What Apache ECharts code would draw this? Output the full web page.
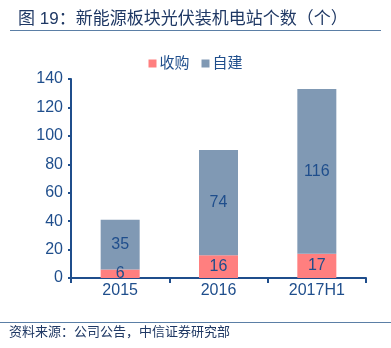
<!DOCTYPE html>
<html>
<head>
<meta charset="utf-8">
<script src="https://cdn.jsdelivr.net/npm/echarts@6/dist/echarts.min.js"></script>
<style>
html,body{margin:0;padding:0;background:#fff;}
#chart{width:391px;height:348px;}
</style>
</head>
<body>
<div id="chart"></div>
<script>
// Categories and stacked series values
const categories = ['2015', '2016', '2017H1'];
const acquired = [6, 16, 17];      // 收购
const selfBuilt = [35, 74, 116];   // 自建
const yTicks = { min: 0, max: 140, interval: 20 };

const FONT = '"Liberation Sans", "Noto Sans CJK SC", sans-serif';
const NAVY = '#1f4e8c';

const chart = echarts.init(document.getElementById('chart'), null, { renderer: 'canvas' });

chart.setOption({
  animation: false,
  backgroundColor: '#ffffff',
  textStyle: { fontFamily: FONT },
  title: {
    text: '图 19：新能源板块光伏装机电站个数（个）',
    left: 13, top: 6,
    textStyle: { fontFamily: FONT, fontSize: 17, fontWeight: 'normal', color: '#1f3864' }
  },
  legend: {
    top: 51, left: 'center',
    itemWidth: 8, itemHeight: 8, itemGap: 12,
    icon: 'rect',
    textStyle: { fontFamily: FONT, fontSize: 15, color: NAVY, padding: [0, 0, 0, -2] },
    data: ['收购', '自建']
  },
  grid: { left: 71, right: 25, top: 79, bottom: 70, containLabel: false },
  xAxis: {
    type: 'category',
    data: categories,
    axisLine: { lineStyle: { color: NAVY, width: 2 } },
    axisTick: { show: true, length: 5, lineStyle: { color: NAVY, width: 2 } },
    axisLabel: { fontFamily: FONT, fontSize: 16, color: NAVY, margin: 5 }
  },
  yAxis: {
    type: 'value',
    min: yTicks.min, max: yTicks.max, interval: yTicks.interval,
    axisLine: { show: true, lineStyle: { color: NAVY, width: 2 } },
    axisTick: { show: true, length: 3, lineStyle: { color: NAVY, width: 2 } },
    splitLine: { show: false },
    axisLabel: { fontFamily: FONT, fontSize: 16, color: NAVY, margin: 8 }
  },
  series: [
    {
      name: '收购', type: 'bar', stack: 'total',
      data: acquired, barWidth: 39,
      itemStyle: { color: '#ff7f7f' },
      label: { show: true, position: 'inside', fontFamily: FONT, fontSize: 16, color: NAVY }
    },
    {
      name: '自建', type: 'bar', stack: 'total',
      data: selfBuilt, barWidth: 39,
      itemStyle: { color: '#8099b4' },
      label: { show: true, position: 'inside', fontFamily: FONT, fontSize: 16, color: NAVY }
    }
  ],
  graphic: [
    { type: 'line', shape: { x1: 10, y1: 30.5, x2: 381, y2: 30.5 }, style: { stroke: '#5b7fa6', lineWidth: 1 } },
    { type: 'line', shape: { x1: 0, y1: 322.5, x2: 391, y2: 322.5 }, style: { stroke: '#5b7fa6', lineWidth: 1 } },
    { type: 'text', left: 9, top: 326, style: { text: '资料来源：公司公告，中信证券研究部', font: '13px ' + FONT, fill: '#1f3864' } }
  ]
});
</script>
</body>
</html>
